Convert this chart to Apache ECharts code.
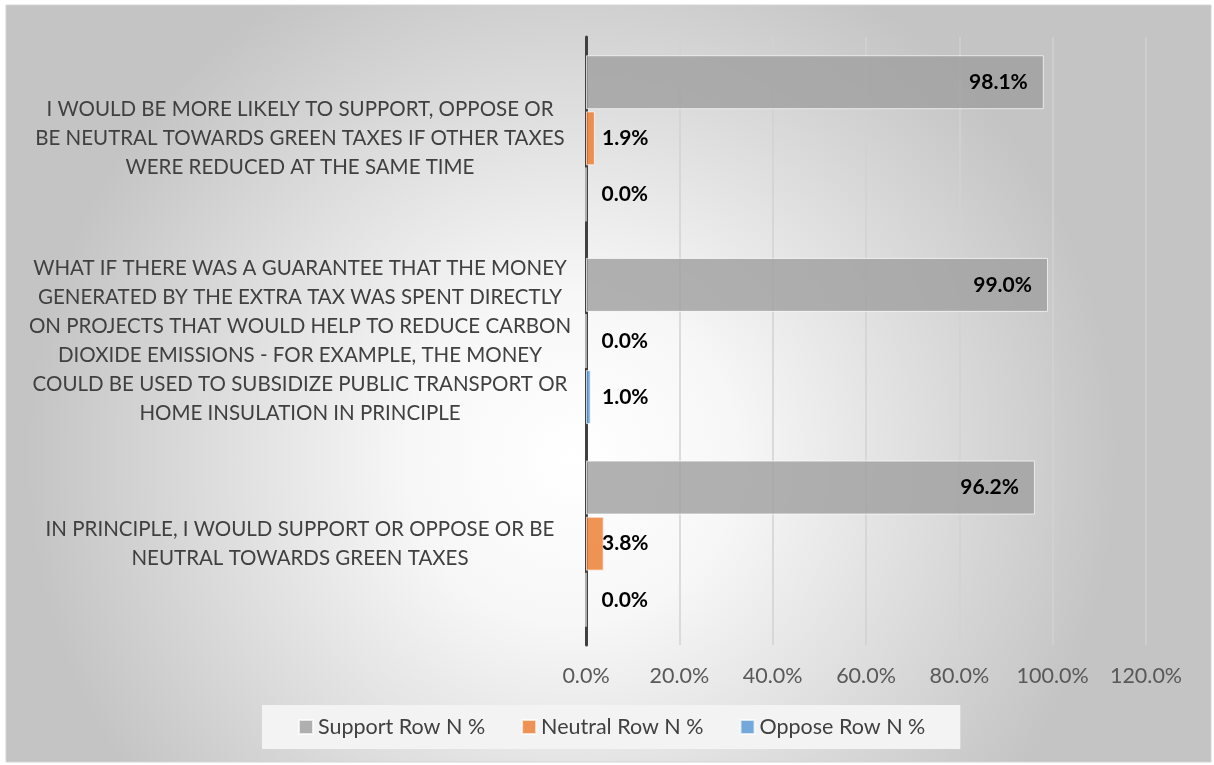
<!DOCTYPE html>
<html>
<head>
<meta charset="utf-8">
<script src="https://cdn.jsdelivr.net/npm/echarts@6/dist/echarts.min.js"></script>
<style>
html,body{margin:0;padding:0;background:#fff;}
#chart{width:1214px;height:765px;}
</style>
</head>
<body>
<div id="chart"></div>
<script>
var categories = [
  "I WOULD BE MORE LIKELY TO SUPPORT, OPPOSE OR\nBE NEUTRAL TOWARDS GREEN TAXES IF OTHER TAXES\nWERE REDUCED AT THE SAME TIME",
  "WHAT IF THERE WAS A GUARANTEE THAT THE MONEY\nGENERATED BY THE EXTRA TAX WAS SPENT DIRECTLY\nON PROJECTS THAT WOULD HELP TO REDUCE CARBON\nDIOXIDE EMISSIONS - FOR EXAMPLE, THE MONEY\nCOULD BE USED TO SUBSIDIZE PUBLIC TRANSPORT OR\nHOME INSULATION IN PRINCIPLE",
  "IN PRINCIPLE, I WOULD SUPPORT OR OPPOSE OR BE\nNEUTRAL TOWARDS GREEN TAXES"
];
var seriesNames = ["Support Row N %", "Neutral Row N %", "Oppose Row N %"];
var support = [98.1, 99.0, 96.2];
var neutral = [1.9, 0.0, 3.8];
var oppose = [0.0, 1.0, 0.0];
var xTicks = {min: 0, max: 120, interval: 20};

var FONT = "Lato";
function pct(v){ return Number(v).toFixed(1) + "%"; }

var chart = echarts.init(document.getElementById('chart'));
var labelBase = {show: true, color: '#000', fontWeight: 'bold', fontSize: 21, fontFamily: FONT,
  formatter: function(p){ return pct(p.value); }};

chart.setOption({
  backgroundColor: '#ffffff',
  animation: false,
  graphic: {
    elements: [{
      type: 'rect', z: -100, zlevel: 0, silent: true,
      shape: {x: 6, y: 5, width: 1205, height: 757},
      style: {
        fill: {type: 'radial', x: 0.47, y: 0.6, r: 0.72,
          colorStops: [{offset: 0, color: '#ffffff'}, {offset: 0.3, color: '#f7f7f7'}, {offset: 1, color: '#c4c4c4'}]},
        stroke: '#d4d4d4', lineWidth: 1
      }
    }]
  },
  legend: {
    data: seriesNames,
    left: 262, top: 705,
    padding: [11, 35, 11, 36],
    backgroundColor: '#f3f3f3',
    itemWidth: 14, itemHeight: 14, itemGap: 36,
    icon: 'rect',
    textStyle: {color: '#404040', fontSize: 21.5, fontFamily: FONT}
  },
  grid: {left: 586, right: 68, top: 37, bottom: 120, containLabel: false},
  xAxis: {
    type: 'value', min: xTicks.min, max: xTicks.max, interval: xTicks.interval,
    axisLine: {show: false}, axisTick: {show: false},
    splitLine: {show: true, lineStyle: {color: '#d2d2d2', width: 1.5}},
    axisLabel: {color: '#595959', fontSize: 21.5, fontFamily: FONT, margin: 20, formatter: function(v){ return pct(v); }}
  },
  yAxis: {
    type: 'category', data: categories, inverse: true,
    axisLine: {show: true, lineStyle: {color: '#404040', width: 3}},
    axisTick: {show: false},
    axisLabel: {color: '#404040', fontSize: 20.5, fontFamily: FONT, align: 'center', margin: 286, lineHeight: 29}
  },
  series: [
    {name: seriesNames[0], type: 'bar', data: support, barCategoryGap: '18%', barGap: '4%',
      itemStyle: {color: 'rgba(160,160,160,0.82)', borderColor: 'rgba(255,255,255,0.7)', borderWidth: 1},
      label: Object.assign({}, labelBase, {position: 'insideRight', distance: 16})},
    {name: seriesNames[1], type: 'bar', data: neutral, barCategoryGap: '18%', barGap: '4%',
      itemStyle: {color: 'rgba(237,125,49,0.82)', borderColor: 'rgba(255,255,255,0.7)', borderWidth: 1},
      label: Object.assign({}, labelBase, {position: 'insideLeft', distance: 16})},
    {name: seriesNames[2], type: 'bar', data: oppose, barCategoryGap: '18%', barGap: '4%',
      itemStyle: {color: 'rgba(91,155,213,0.85)', borderColor: 'rgba(255,255,255,0.7)', borderWidth: 1},
      label: Object.assign({}, labelBase, {position: 'insideLeft', distance: 16})}
  ]
});
</script>
</body>
</html>
